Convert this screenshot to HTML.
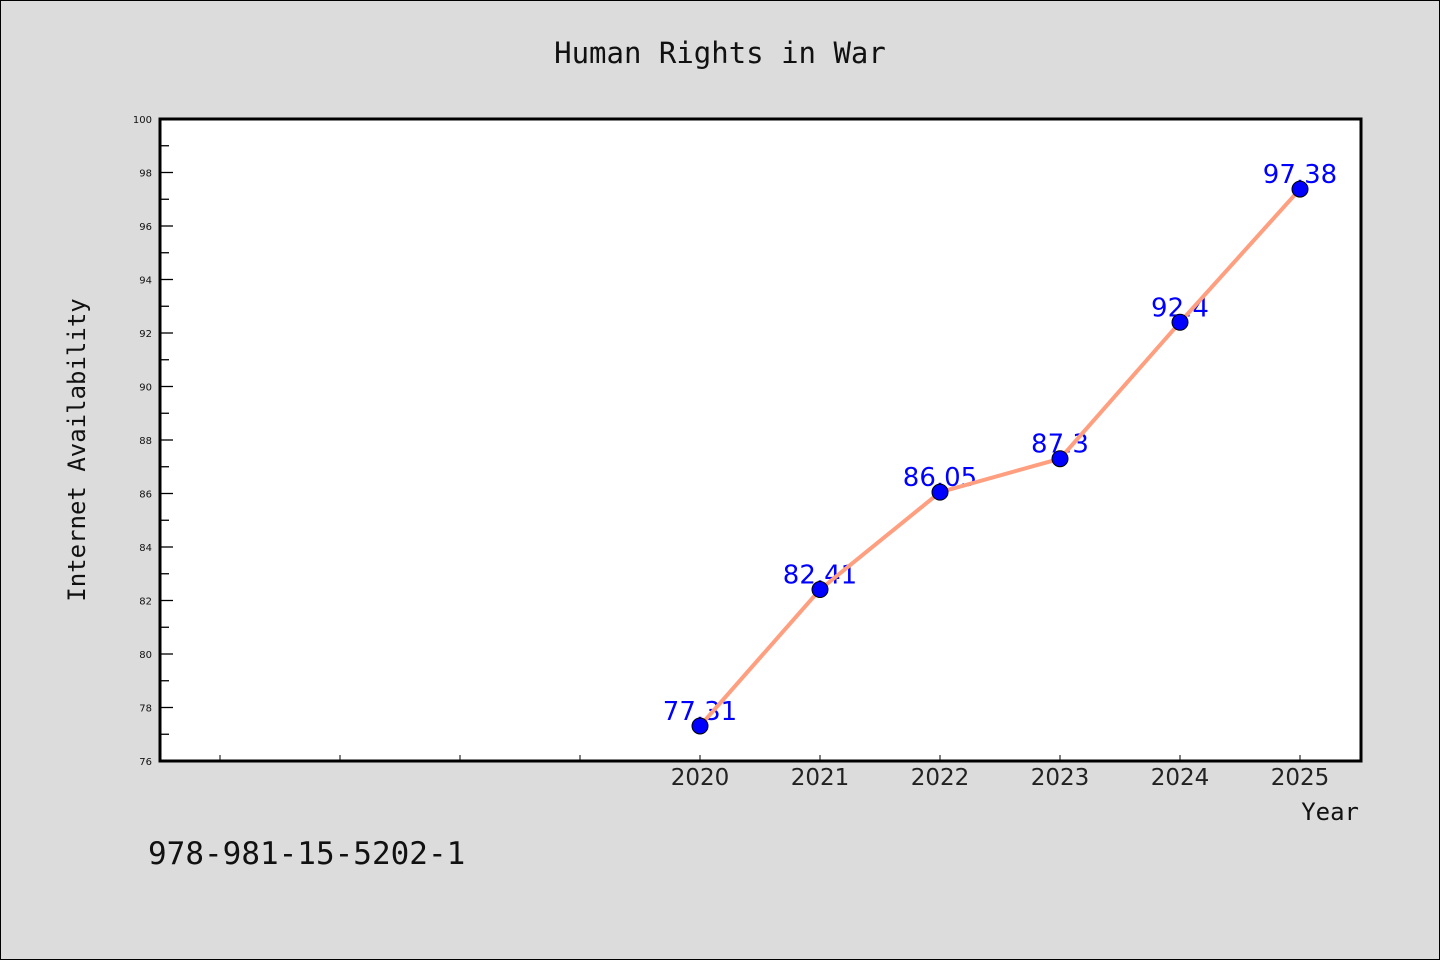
<!DOCTYPE html>
<html><head><meta charset="utf-8"><style>
body{margin:0;background:#dcdcdc;}
svg{display:block;font-family:"DejaVu Sans","WenQuanYi Zen Hei",sans-serif;}
</style></head><body>
<svg id="c" width="1440" height="960">
<rect x="0.5" y="0.5" width="1439" height="959" fill="#dcdcdc" stroke="#000"/>
<text x="720" y="63" text-anchor="middle" font-size="29" fill="#111" font-family="WenQuanYi Zen Hei, monospace">Human Rights in War</text>
<rect x="160" y="119" width="1201" height="642" fill="#fff"/>
<g id="axes"></g>
<g id="marks"></g>
<rect x="160" y="119" width="1201" height="642" fill="none" stroke="#000" stroke-width="3"/>
<text transform="translate(85,450) rotate(-90)" text-anchor="middle" font-size="24" fill="#111" font-family="WenQuanYi Zen Hei, monospace">Internet Availability</text>
<text x="1359" y="820" text-anchor="end" font-size="24" fill="#111" font-family="WenQuanYi Zen Hei, monospace">Year</text>
<text x="148" y="864" font-size="31" fill="#111" font-family="WenQuanYi Zen Hei, monospace">978-981-15-5202-1</text>
</svg>
<script>
const categories=["","","","","2020","2021","2022","2023","2024","2025"];
const values=[null,null,null,null,77.31,82.41,86.05,87.3,92.4,97.38];
const valueLabels=["","","","","77.31","82.41","86.05","87.3","92.4","97.38"];
const yTicks=[76,78,80,82,84,86,88,90,92,94,96,98,100];
const NS="http://www.w3.org/2000/svg";
const X0=160,X1=1361,Y0=761,Y1=119,ymin=76,ymax=100;
function xs(i){return X0+60+i*120;}
function ys(v){return Y0-(v-ymin)/(ymax-ymin)*(Y0-Y1);}
function mk(t,a,p){const e=document.createElementNS(NS,t);for(const k in a)e.setAttribute(k,a[k]);p.appendChild(e);return e;}
const ax=document.getElementById('axes'),mg=document.getElementById('marks');
yTicks.forEach(v=>{
  const y=ys(v);
  const l=mk('line',{x1:X0,x2:X0+13,y1:y,y2:y,stroke:'#000','stroke-width':1.3},ax);
  
  
  const t=mk('text',{x:X0-8,y:y+4,'text-anchor':'end','font-size':10,fill:'#111'},ax);
  t.textContent=v;
  
  
  if(v<ymax){const m=mk('line',{x1:X0,x2:X0+9,y1:ys(v+1),y2:ys(v+1),stroke:'#000','stroke-width':1.3},ax);
  
  }
});
categories.forEach((c,i)=>{
  const x=xs(i);
  const l=mk('line',{x1:x,x2:x,y1:Y0,y2:Y0-6,stroke:'#000','stroke-width':1},ax);
  
  
  const t=mk('text',{x:x,y:Y0+24,'text-anchor':'middle','font-size':23,fill:'#222'},ax);
  t.textContent=c;
  
  
});
const pts=[];
values.forEach((v,i)=>{if(v!==null)pts.push([xs(i),ys(v),i]);});
pts.forEach(p=>{
  const t=mk('text',{x:p[0],y:p[1]-6,'text-anchor':'middle','font-size':26,fill:'#0000ff'},mg);
  t.textContent=valueLabels[p[2]];
  
  
});
const line=mk('polyline',{points:pts.map(p=>p[0]+','+p[1]).join(' '),fill:'none',stroke:'#ff9f7f','stroke-width':4},mg);


pts.forEach(p=>{
  const c=mk('circle',{cx:p[0],cy:p[1],r:8,fill:'#0000ff',stroke:'#000','stroke-width':1},mg);
  
  
});
</script>
</body></html>
